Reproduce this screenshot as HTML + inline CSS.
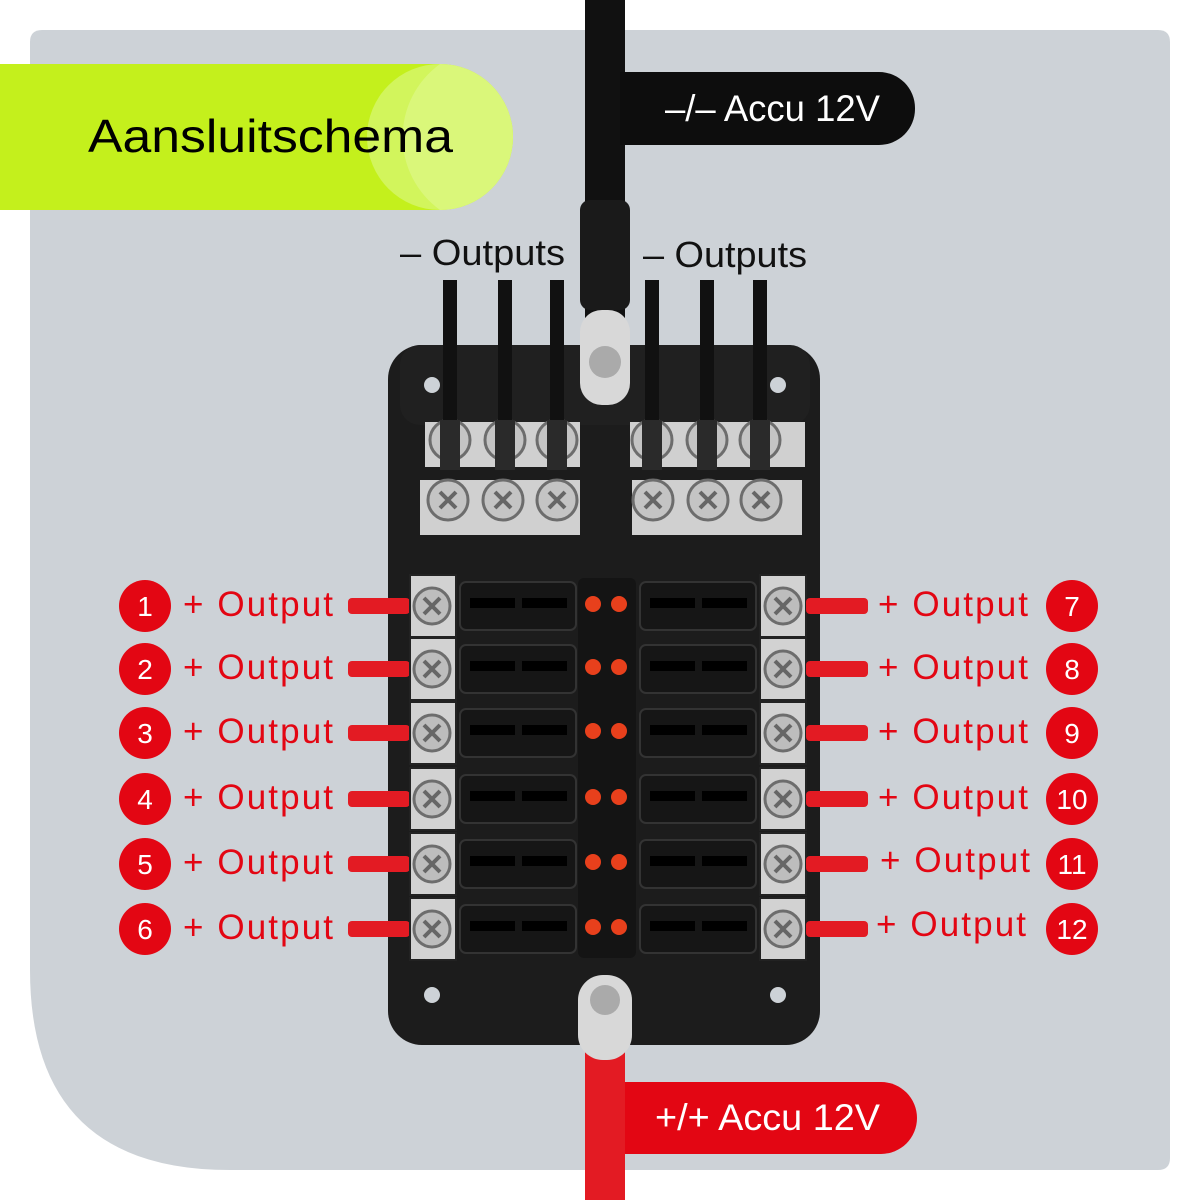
<!DOCTYPE html>
<html><head><meta charset="utf-8"><style>
html,body{margin:0;padding:0;background:#fff;}
body{width:1200px;height:1200px;position:relative;overflow:hidden;font-family:"Liberation Sans",sans-serif;}
svg{position:absolute;left:0;top:0;}
</style></head><body>
<svg width="1200" height="1200" viewBox="0 0 1200 1200">
<defs>
<g id="row">
  <rect x="348" y="-8" width="62" height="16" rx="4" fill="#e31b23"/>
  <rect x="410" y="-31" width="46" height="62" fill="#d2d2d2" stroke="#222" stroke-width="2"/>
  <circle cx="432" cy="0" r="18" fill="#bdbdbd" stroke="#6d6d6d" stroke-width="3"/>
  <path d="M424 -8 L440 8 M440 -8 L424 8" stroke="#666" stroke-width="4"/>
  <rect x="460" y="-24" width="116" height="48" rx="6" fill="#161616" stroke="#333" stroke-width="2"/>
  <rect x="470" y="-8" width="45" height="10" fill="#000"/>
  <rect x="522" y="-8" width="45" height="10" fill="#000"/>
  <circle cx="593" cy="-2" r="8" fill="#e8401c"/>
  <circle cx="619" cy="-2" r="8" fill="#e8401c"/>
  <rect x="640" y="-24" width="116" height="48" rx="6" fill="#161616" stroke="#333" stroke-width="2"/>
  <rect x="650" y="-8" width="45" height="10" fill="#000"/>
  <rect x="702" y="-8" width="45" height="10" fill="#000"/>
  <rect x="760" y="-31" width="46" height="62" fill="#d2d2d2" stroke="#222" stroke-width="2"/>
  <circle cx="783" cy="0" r="18" fill="#bdbdbd" stroke="#6d6d6d" stroke-width="3"/>
  <path d="M775 -8 L791 8 M791 -8 L775 8" stroke="#666" stroke-width="4"/>
  <rect x="806" y="-8" width="62" height="16" rx="4" fill="#e31b23"/>
</g>
<g id="screw">
  <circle cx="0" cy="0" r="20" fill="#c4c4c4" stroke="#6d6d6d" stroke-width="3"/>
  <path d="M-8 -8 L8 8 M8 -8 L-8 8" stroke="#666" stroke-width="4"/>
</g>
<g id="cab">
  <rect x="-7" y="280" width="14" height="160" fill="#111"/>
  <rect x="-10" y="420" width="20" height="50" fill="#2a2a2a"/>
</g>
</defs>
<path d="M42 30 H1158 Q1170 30 1170 42 V1158 Q1170 1170 1158 1170 H230 Q30 1170 30 970 V42 Q30 30 42 30 Z" fill="#cdd2d7"/>
<path d="M0 64 H440 A73 73 0 0 1 440 210 H0 Z" fill="#c4f01c"/>
<circle cx="440" cy="137" r="73" fill="#d2f55c"/>
<path d="M440 64 A73 73 0 0 1 440 210 A90 90 0 0 1 440 64 Z" fill="#daf77a"/>
<text x="88" y="152" font-size="46" fill="#000" textLength="365" lengthAdjust="spacingAndGlyphs">Aansluitschema</text>
<rect x="585" y="0" width="40" height="320" fill="#111"/>
<rect x="580" y="200" width="50" height="110" rx="10" fill="#1a1a1a"/>
<rect x="620" y="72" width="295" height="73" rx="36" fill="#0d0d0d"/>
<rect x="620" y="72" width="40" height="73" fill="#0d0d0d"/>
<text x="665" y="121" font-size="37" fill="#fff" textLength="215" lengthAdjust="spacingAndGlyphs">–/– Accu 12V</text>
<text x="400" y="265" font-size="36" fill="#111" textLength="165" lengthAdjust="spacingAndGlyphs">– Outputs</text>
<text x="643" y="267" font-size="36" fill="#111" textLength="164" lengthAdjust="spacingAndGlyphs">– Outputs</text>
<rect x="388" y="345" width="432" height="700" rx="34" fill="#1c1c1c"/>
<rect x="400" y="345" width="410" height="80" rx="20" fill="#202020"/>
<circle cx="432" cy="385" r="8" fill="#cdd2d7"/><circle cx="778" cy="385" r="8" fill="#cdd2d7"/>
<circle cx="432" cy="995" r="8" fill="#cdd2d7"/><circle cx="778" cy="995" r="8" fill="#cdd2d7"/>
<rect x="425" y="422" width="155" height="45" fill="#d0d0d0"/>
<rect x="630" y="422" width="175" height="45" fill="#d0d0d0"/>
<rect x="420" y="480" width="160" height="55" fill="#d0d0d0"/>
<rect x="632" y="480" width="170" height="55" fill="#d0d0d0"/>
<use href="#screw" x="450" y="440"/><use href="#screw" x="505" y="440"/><use href="#screw" x="557" y="440"/>
<use href="#screw" x="652" y="440"/><use href="#screw" x="707" y="440"/><use href="#screw" x="760" y="440"/>
<use href="#screw" x="448" y="500"/><use href="#screw" x="503" y="500"/><use href="#screw" x="557" y="500"/>
<use href="#screw" x="653" y="500"/><use href="#screw" x="708" y="500"/><use href="#screw" x="761" y="500"/>
<use href="#cab" x="450"/><use href="#cab" x="505"/><use href="#cab" x="557"/>
<use href="#cab" x="652"/><use href="#cab" x="707"/><use href="#cab" x="760"/>
<rect x="580" y="310" width="50" height="95" rx="22" fill="#d8d8d8"/>
<circle cx="605" cy="362" r="16" fill="#aaa"/>
<rect x="578" y="578" width="58" height="380" rx="6" fill="#141414"/>
<use href="#row" y="606"/><use href="#row" y="669"/><use href="#row" y="733"/>
<use href="#row" y="799"/><use href="#row" y="864"/><use href="#row" y="929"/>
<rect x="585" y="1040" width="40" height="160" fill="#e31b23"/>
<rect x="578" y="975" width="54" height="85" rx="25" fill="#d8d8d8"/>
<circle cx="605" cy="1000" r="15" fill="#aaa"/>
<rect x="625" y="1082" width="292" height="72" rx="36" fill="#e30613"/>
<rect x="625" y="1082" width="40" height="72" fill="#e30613"/>
<text x="655" y="1130" font-size="37" fill="#fff" textLength="225" lengthAdjust="spacingAndGlyphs">+/+ Accu 12V</text>
<g fill="#e30613">
<circle cx="145" cy="606" r="26"/><circle cx="145" cy="669" r="26"/><circle cx="145" cy="733" r="26"/>
<circle cx="145" cy="799" r="26"/><circle cx="145" cy="864" r="26"/><circle cx="145" cy="929" r="26"/>
<circle cx="1072" cy="606" r="26"/><circle cx="1072" cy="669" r="26"/><circle cx="1072" cy="733" r="26"/>
<circle cx="1072" cy="799" r="26"/><circle cx="1072" cy="864" r="26"/><circle cx="1072" cy="929" r="26"/>
</g>
<g fill="#fff" font-size="28" text-anchor="middle">
<text x="145" y="616">1</text><text x="145" y="679">2</text><text x="145" y="743">3</text>
<text x="145" y="809">4</text><text x="145" y="874">5</text><text x="145" y="939">6</text>
<text x="1072" y="616">7</text><text x="1072" y="679">8</text><text x="1072" y="743">9</text>
<text x="1072" y="809">10</text><text x="1072" y="874">11</text><text x="1072" y="939">12</text>
</g>
<g fill="#e30613" font-size="35" lengthAdjust="spacingAndGlyphs">
<text x="183" y="616" textLength="150">+ Output</text><text x="183" y="679" textLength="150">+ Output</text><text x="183" y="743" textLength="150">+ Output</text>
<text x="183" y="809" textLength="150">+ Output</text><text x="183" y="874" textLength="150">+ Output</text><text x="183" y="939" textLength="150">+ Output</text>
<text x="878" y="616" textLength="150">+ Output</text><text x="878" y="679" textLength="150">+ Output</text><text x="878" y="743" textLength="150">+ Output</text>
<text x="878" y="809" textLength="150">+ Output</text><text x="880" y="872" textLength="150">+ Output</text><text x="876" y="936" textLength="150">+ Output</text>
</g>
</svg>
</body></html>
